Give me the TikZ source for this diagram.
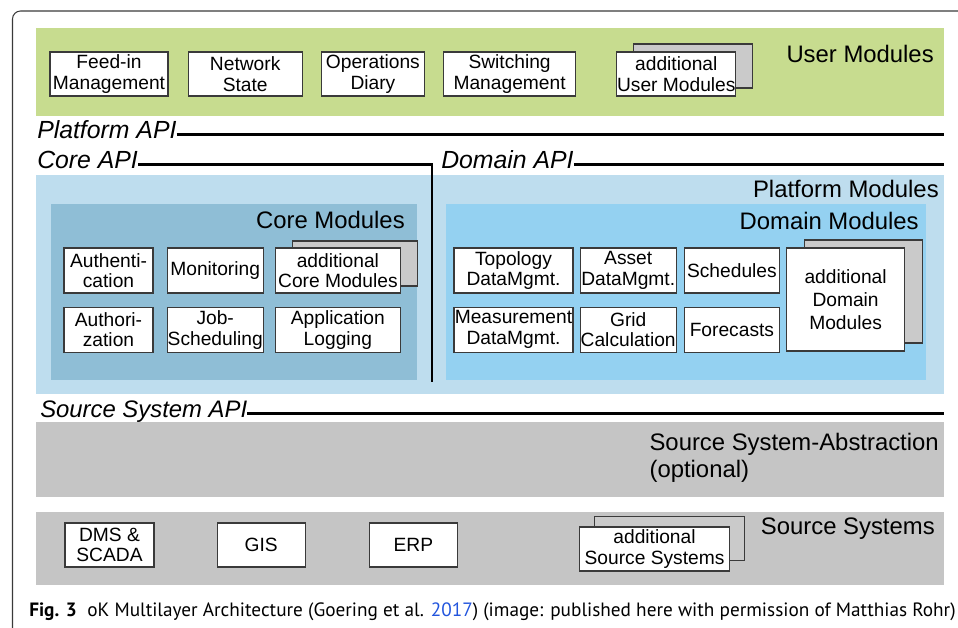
\documentclass[tikz,border=0pt]{standalone}
\usepackage{fontspec}
\setmainfont{Liberation Sans}
\newfontfamily\capfont{PT Sans}
\usetikzlibrary{positioning,shadows}

\definecolor{UserGreen}{HTML}{C7DC8F}
\definecolor{PlatformBlue}{HTML}{BEDDEE}
\definecolor{CoreBlue}{HTML}{8FBED6}
\definecolor{DomainBlue}{HTML}{94D1F1}
\definecolor{SourceGray}{HTML}{C5C5C5}
\definecolor{ShadowGray}{HTML}{CACACA}
\definecolor{EdgeGray}{HTML}{3A3A3A}
\definecolor{LinkBlue}{HTML}{2255DD}

\begin{document}
\begin{tikzpicture}[
			x=0.75pt, y=-0.75pt,
			every node/.style={align=center,inner sep=0pt},
			modbox/.style={draw=EdgeGray,line width=0.9pt,fill=white,minimum height=33.75pt,font=\fontsize{14.4}{15.5}\selectfont},
			stackbox/.style 2 args={modbox,copy shadow={shadow xshift=#1,shadow yshift=#2,fill=ShadowGray,draw=EdgeGray,line width=0.9pt}},
			head/.style={font=\fontsize{17.9}{20}\selectfont},
			apilabel/.style={font=\fontsize{18.6}{20}\selectfont\itshape,text height=0.55em,text depth=0pt},
			apiline/.style={draw=black,line width=2.2pt}
		]
		\useasboundingbox (0,0) rectangle (958,628);

		% frame and layers
		\draw[EdgeGray,line width=0.8pt,rounded corners=6pt] (12.5,628) -- (12.5,11) -- (958,11);
		\fill[UserGreen] (36,28) rectangle (944,116);
		\fill[PlatformBlue] (36,175) rectangle (944,394);
		\fill[CoreBlue] (51,204) rectangle (417,380);
		\fill[DomainBlue] (446,204) rectangle (926,380);
		\fill[SourceGray] (36,422) rectangle (944,497);
		\fill[SourceGray] (36,512) rectangle (944,585);

		\node[head,anchor=base east] (userhead) at (934,62) {User Modules};
		\node[head,anchor=base east] (plathead) at (939,197) {Platform Modules};
		\node[head,anchor=base east] (corehead) at (405,228) {Core Modules};
		\node[head,anchor=base east] (domhead) at (919,229) {Domain Modules};
		\node[head,anchor=base east] (abshead) at (939,450) {Source System-Abstraction};
		\node[head,anchor=base west] (absopt) at ([yshift=-20.25pt]abshead.base west) {(optional)};
		\node[head,anchor=base east] (srchead) at (935,534) {Source Systems};

		% user modules
		\node[modbox,minimum width=88.5pt,minimum height=33pt] (feedin) at (109,74) {Feed-in \\ Management};
		\node[modbox,minimum width=85.5pt,minimum height=33pt,right=14.25pt of feedin] (netstate) {Network \\ State};
		\node[modbox,minimum width=77.25pt,minimum height=33pt,right=13.5pt of netstate] (opsdiary) {Operations \\ Diary};
		\node[modbox,minimum width=99pt,minimum height=33pt,right=13.5pt of opsdiary] (switching) {Switching \\ Management};
		\node[stackbox={12.75pt}{6pt},minimum width=89.25pt,minimum height=33pt,right=30pt of switching] (adduser) {additional \\ User Modules};

		% core modules
		\node[modbox,minimum width=66.75pt] (authn) at (108.5,270.5) {Authenti- \\ cation};
		\node[modbox,minimum width=72pt,right=9.75pt of authn] (monitoring) {Monitoring};
		\node[stackbox={12.75pt}{5.25pt},minimum width=93.75pt,right=8.25pt of monitoring] (addcore) {additional \\ Core Modules};
		\node[modbox,minimum width=66.75pt,below=9.75pt of authn] (authz) {Authori- \\ zation};
		\node[modbox,minimum width=72pt,below=9.75pt of monitoring] (jobsched) {Job- \\ Scheduling};
		\node[modbox,minimum width=93.75pt,below=9.75pt of addcore] (applog) {Application \\ Logging};

		% domain modules
		\node[modbox,minimum width=89.25pt] (topology) at (513.5,270.5) {Topology \\ DataMgmt.};
		\node[modbox,minimum width=72pt,right=4.5pt of topology] (asset) {Asset \\ DataMgmt.};
		\node[modbox,minimum width=71.25pt,right=5.25pt of asset] (schedules) {Schedules};
		\node[modbox,minimum width=89.25pt,below=9.75pt of topology] (measurement) {Measurement \\ DataMgmt.};
		\node[modbox,minimum width=72pt,below=9.75pt of asset] (gridcalc) {Grid \\ Calculation};
		\node[modbox,minimum width=71.25pt,below=9.75pt of schedules] (forecasts) {Forecasts};
		\node[stackbox={13.5pt}{6pt},minimum width=88.5pt,minimum height=77.25pt,anchor=north west,font=\fontsize{14.4}{17}\selectfont] (adddomain) at ([xshift=4.5pt]schedules.north east) {additional \\ Domain \\ Modules};

		% source systems
		\node[modbox,minimum width=66.75pt,minimum height=33pt] (dms) at (109.5,545) {DMS \& \\ SCADA};
		\node[modbox,minimum width=66pt,minimum height=33pt,right=46.5pt of dms] (gis) {GIS};
		\node[modbox,minimum width=66pt,minimum height=33pt,right=47.25pt of gis] (erp) {ERP};
		\node[stackbox={11pt}{8pt},minimum width=112.5pt,minimum height=33pt] (addsrc) at (654.5,549) {additional \\ Source Systems};

		% APIs
		\node[apilabel,anchor=base west] (platapi) at (37,138) {Platform API};
		\node[apilabel,anchor=base west] (coreapi) at (37,168) {Core API};
		\node[apilabel,anchor=base west] (domapi) at (441,168) {Domain API};
		\node[apilabel,anchor=base west,font=\fontsize{17.9}{20}\selectfont\itshape] (srcapi) at (40,417) {Source System API};
		\coordinate (apiright) at (944,0);
		\coordinate (corebottom) at (432,382);
		\draw[apiline] (platapi.east) -- (platapi.east -| apiright);
		\draw[apiline] (coreapi.east) -| (corebottom);
		\draw[apiline] (domapi.east) -- (domapi.east -| apiright);
		\draw[apiline] (srcapi.east) -- (srcapi.east -| apiright);

		% caption
		\node[anchor=base west,font=\capfont\fontsize{14.45}{17}\selectfont] (caption) at (29,616) {\textbf{Fig. 3}\hspace{0.55em}oK Multilayer Architecture (Goering et al. \textcolor{LinkBlue}{2017}) (image: published here with permission of Matthias Rohr)};
	\end{tikzpicture}
\end{document}
